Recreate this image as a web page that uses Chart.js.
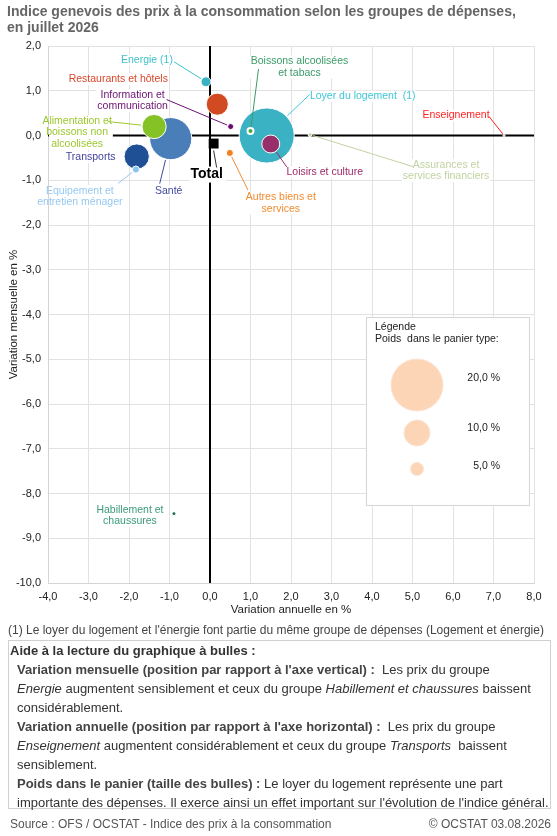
<!DOCTYPE html>
<html lang="fr">
<head>
<meta charset="utf-8">
<title>Indice genevois des prix à la consommation - juillet 2026</title>
<script src="https://cdn.jsdelivr.net/npm/chart.js@4.4.1/dist/chart.umd.min.js"></script>
<style>
  body { margin: 0; background: #fff; font-family: "Liberation Sans", Arial, sans-serif; }
  #page { position: relative; width: 557px; height: 836px; overflow: hidden; }
  #graph { position: absolute; left: 0; top: 0; }
  #titre { position: absolute; left: 7px; top: 3px; font-weight: bold; font-size: 14px; line-height: 16px; color: #666; }
  #note { position: absolute; left: 8px; top: 623px; font-size: 12px; line-height: 14px; color: #444; white-space: nowrap; }
  #aide { position: absolute; left: 8px; top: 640px; width: 543px; height: 169px; border: 1px solid #d0d0d0; box-sizing: border-box;
          font-size: 13px; line-height: 19px; color: #333; white-space: nowrap; }
  #aide .h { font-weight: bold; padding-left: 1px; }
  #aide .p { padding-left: 8px; }
  #aide b { color: #444; }
  #source { position: absolute; left: 10px; right: 6px; top: 815px; font-size: 12px; line-height: 19px; color: #555; }
  #source span { float: right; }
</style>
</head>
<body>
<div id="page">
  <canvas id="graph" width="557" height="625"></canvas>
  <div id="titre">Indice genevois des prix à la consommation selon les groupes de dépenses,<br>en juillet 2026</div>
  <div id="note">(1) Le loyer du logement et l'énergie font partie du même groupe de dépenses (Logement et énergie)</div>
  <div id="aide">
    <div class="h">Aide à la lecture du graphique à bulles :</div>
    <div class="p"><b>Variation mensuelle (position par rapport à l'axe vertical) :</b>&nbsp; Les prix du groupe<br><i>Energie</i> augmentent sensiblement et ceux du groupe <i>Habillement et chaussures</i> baissent<br>considérablement.</div>
    <div class="p"><b>Variation annuelle (position par rapport à l'axe horizontal) :</b>&nbsp; Les prix du groupe<br><i>Enseignement</i> augmentent considérablement et ceux du groupe <i>Transports</i>&nbsp; baissent<br>sensiblement.</div>
    <div class="p"><b>Poids dans le panier (taille des bulles) :</b> Le loyer du logement représente une part<br>importante des dépenses. Il exerce ainsi un effet important sur l'évolution de l'indice général.</div>
  </div>
  <div id="source">Source : OFS / OCSTAT - Indice des prix à la consommation<span>© OCSTAT 03.08.2026</span></div>
</div>
<script>
// Données (ordre = ordre de dessin, grosses bulles d'abord)
const groupes = [
  ['Loyer du logement  (1)'],
  ['Santé'],
  ['Alimentation et', 'boissons non', 'alcoolisées'],
  ['Transports'],
  ['Equipement et', 'entretien ménager'],
  ['Restaurants et hôtels'],
  ['Energie (1)'],
  ['Information et', 'communication'],
  ['Boissons alcoolisées', 'et tabacs'],
  ['Loisirs et culture'],
  ['Autres biens et', 'services'],
  ['Assurances et', 'services financiers'],
  ['Enseignement'],
  ['Habillement et', 'chaussures']
];
const varAnnuelle  = [1.40, -0.97, -1.38, -1.81, -1.83, 0.18, -0.10, 0.51, 1.00, 1.50, 0.49, 2.47, 7.26, -0.89];
const varMensuelle = [0.00, -0.07,  0.20, -0.47, -0.76, 0.70,  1.20, 0.20, 0.10, -0.19, -0.39, 0.02, 0.00, -8.45];
const poids        = [21.2, 16.2, 9.3, 9.7, 2.7, 8.5, 3.8, 2.3, 2.3, 6.9, 2.7, 1.5, 0.8, 1.5];
const total = { annuelle: 0.09, mensuelle: -0.18 };
const poidsLegende = [20, 10, 5];
const ticksX = [-4, -3, -2, -1, 0, 1, 2, 3, 4, 5, 6, 7, 8];
const ticksY = [2, 1, 0, -1, -2, -3, -4, -5, -6, -7, -8, -9, -10];

// styles
const FONT = '"Liberation Sans", Arial, sans-serif';
const couleursBulles = ['#3BB1C4', '#4A7EB8', '#84C225', '#1F5096', '#86C5F0', '#D24A22', '#3BB1C4',
                        '#6A0A6E', '#44A844', '#97306A', '#F08020', '#C5D5A5', '#F4A0A0', '#1F6B45'];
const couleursTextes = ['#3FC6D6', '#4049A0', '#9CC82E', '#44449E', '#96C8F2', '#D9472B', '#3FC1CB',
                        '#6B1273', '#3A9C68', '#9C2B68', '#F28A30', '#C2D2A2', '#FF2222', '#3A9A7A'];
// décalages en pixels par rapport au centre de la bulle : [texte dx, dy, trait dx, dy]
const placement = [
  [96, -39, 43, -41], [-2, 52, -11, 45], [-77, 6, -46, -5], [-46, 1, null, null],
  [-56, 27, -18, 14], [-99, -25, null, null], [-59, -22, -32, -20], [-98, -26, -64, -27],
  [49, -64, 8, -62], [54, 28, 16, 23], [51, 50, 18, 37], [136, 36, 103, 32],
  [-48, -20, -15, -19], [-44, 2, null, null]
];
const rayon = w => w * 1.3;
const fmt = v => v.toFixed(1).replace('.', ',');

const lignesZero = {
  id: 'lignesZero',
  beforeDatasetsDraw(chart) {
    const { ctx, chartArea: a, scales: { x, y } } = chart;
    ctx.save();
    ctx.strokeStyle = '#000';
    ctx.lineWidth = 2;
    ctx.beginPath();
    ctx.moveTo(a.left, y.getPixelForValue(0)); ctx.lineTo(a.right, y.getPixelForValue(0));
    ctx.moveTo(x.getPixelForValue(0), a.top); ctx.lineTo(x.getPixelForValue(0), a.bottom);
    ctx.stroke();
    ctx.restore();
  }
};

const etiquettes = {
  id: 'etiquettes',
  afterDatasetsDraw(chart) {
    const { ctx, chartArea: a } = chart;
    const pts = chart.getDatasetMeta(0).data;
    const lh = 11.5;
    ctx.save();
    ctx.font = '10.5px ' + FONT;
    ctx.textAlign = 'center';
    ctx.textBaseline = 'middle';
    groupes.forEach((lignes, i) => {
      const p = pts[i], [dx, dy, lx, ly] = placement[i];
      const cx = p.x + dx, cy = p.y + dy;
      const w = Math.max(...lignes.map(t => ctx.measureText(t).width));
      const h = lignes.length * lh;
      // fond blanc limité à la zone du graphique
      const x0 = Math.max(a.left + 1, cx - w / 2 - 1), x1 = Math.min(a.right - 1, cx + w / 2 + 1);
      ctx.fillStyle = '#fff';
      ctx.fillRect(x0, cy - h / 2, x1 - x0, h);
      if (lx !== null) {
        const r = rayon(poids[i]) + 1;
        const d = Math.hypot(lx, ly);
        ctx.strokeStyle = couleursTextes[i];
        ctx.lineWidth = 1;
        ctx.beginPath();
        ctx.moveTo(p.x + lx, p.y + ly);
        ctx.lineTo(p.x + lx * r / d, p.y + ly * r / d);
        ctx.stroke();
      }
      ctx.fillStyle = couleursTextes[i];
      lignes.forEach((t, k) => ctx.fillText(t, cx, cy - h / 2 + lh / 2 + k * lh));
    });
    // Total
    const t = chart.getDatasetMeta(1).data[0];
    ctx.font = 'bold 14px ' + FONT;
    ctx.fillStyle = '#fff';
    ctx.fillRect(t.x - 24, t.y + 23, 36, 16);
    ctx.strokeStyle = '#333';
    ctx.beginPath();
    ctx.moveTo(t.x + 3, t.y + 24); ctx.lineTo(t.x, t.y + 7);
    ctx.stroke();
    ctx.fillStyle = '#000';
    ctx.fillText('Total', t.x - 7, t.y + 31);
    ctx.restore();
  },
  afterDraw(chart) {
    // légende des tailles
    const { ctx, chartArea: a } = chart;
    const left = a.right - 168, top = a.top + 271;
    ctx.save();
    ctx.fillStyle = '#fff';
    ctx.strokeStyle = '#d6d6d6';
    ctx.fillRect(left, top, 163, 188);
    ctx.strokeRect(left + 0.5, top + 0.5, 163, 188);
    ctx.fillStyle = '#222';
    ctx.font = '10.5px ' + FONT;
    ctx.textBaseline = 'middle';
    ctx.fillText('Légende', left + 9, top + 10);
    ctx.fillText('Poids  dans le panier type:', left + 9, top + 22);
    const cy = [68, 116, 152], ty = [61, 111, 149];
    poidsLegende.forEach((w, k) => {
      ctx.beginPath();
      ctx.arc(left + 51, top + cy[k], rayon(w), 0, Math.PI * 2);
      ctx.fillStyle = '#FCD5B6';
      ctx.fill();
      ctx.strokeStyle = '#FDE4D2';
      ctx.stroke();
      ctx.fillStyle = '#222';
      ctx.textAlign = 'right';
      ctx.fillText(fmt(w) + ' %', left + 134, top + ty[k]);
    });
    ctx.restore();
  }
};

new Chart(document.getElementById('graph'), {
  type: 'bubble',
  data: {
    datasets: [{
      data: groupes.map((g, i) => ({ x: varAnnuelle[i], y: varMensuelle[i], r: rayon(poids[i]) })),
      backgroundColor: couleursBulles,
      borderColor: '#fff',
      borderWidth: groupes.map((g, i) => i === 8 ? 2 : 1),
      hoverRadius: 0
    }, {
      type: 'scatter',
      data: [{ x: total.annuelle, y: total.mensuelle }],
      pointStyle: 'rect',
      pointRadius: 7,
      backgroundColor: '#000',
      borderWidth: 0
    }]
  },
  options: {
    responsive: false,
    animation: false,
    events: [],
    layout: { autoPadding: false, padding: { left: 0, top: 46, right: 23, bottom: 2 } },
    plugins: { legend: { display: false }, tooltip: { enabled: false } },
    scales: {
      x: {
        type: 'linear', min: ticksX[0], max: ticksX[ticksX.length - 1],
        afterBuildTicks: s => { s.ticks = ticksX.map(v => ({ value: v })); },
        afterFit: s => { s.height = 40; },
        grid: { color: '#e2e2e2', drawTicks: true, tickLength: 7, tickColor: 'rgba(0,0,0,0)' },
        border: { color: '#d4d4d4' },
        ticks: { padding: 0, color: '#222', font: { family: FONT, size: 11 }, callback: v => fmt(v), maxRotation: 0 },
        title: { display: true, text: 'Variation annuelle en %', color: '#222', font: { family: FONT, size: 11.5 }, padding: { top: 0, bottom: 6 } }
      },
      y: {
        type: 'linear', min: ticksY[ticksY.length - 1], max: ticksY[0],
        afterBuildTicks: s => { s.ticks = ticksY.slice().reverse().map(v => ({ value: v })); },
        afterFit: s => { s.width = 48; },
        grid: { color: '#e2e2e2', drawTicks: false },
        border: { color: '#d4d4d4' },
        ticks: { padding: 7, color: '#222', font: { family: FONT, size: 11 }, callback: v => fmt(v) },
        title: { display: true, text: 'Variation mensuelle en %', color: '#222', font: { family: FONT, size: 11.5 }, padding: { top: 7, bottom: 0 } }
      }
    }
  },
  plugins: [lignesZero, etiquettes]
});
</script>
</body>
</html>
